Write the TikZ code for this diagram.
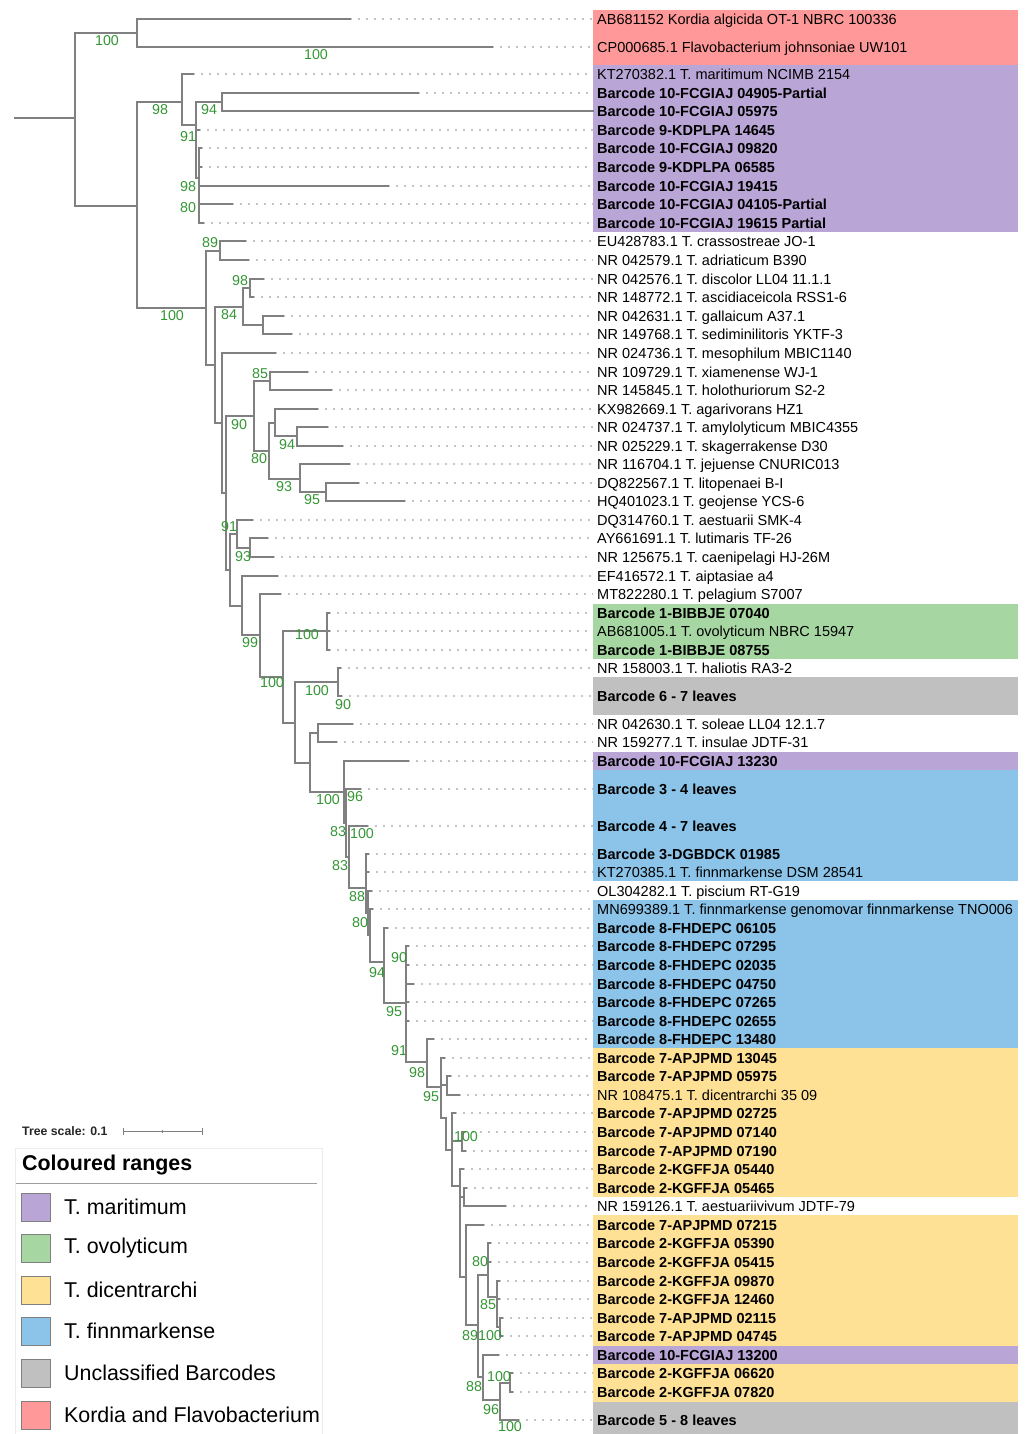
\documentclass[tikz,border=0pt]{standalone}
\usepackage{fontspec}
\setmainfont{Liberation Sans}
\usepackage{tikz}

\definecolor{branchgray}{RGB}{128,128,128}
\definecolor{leadergray}{RGB}{196,196,196}
\definecolor{bootgreen}{RGB}{52,150,52}
\definecolor{rangepink}{RGB}{255,153,153}
\definecolor{rangepurple}{RGB}{185,166,214}
\definecolor{rangegreen}{RGB}{166,215,162}
\definecolor{rangegrey}{RGB}{192,192,192}
\definecolor{rangeblue}{RGB}{139,196,232}
\definecolor{rangeyellow}{RGB}{255,225,150}

\tikzset{
	branch/.style = {draw = branchgray, line width = 1.3pt, line cap = rect},
	leader/.style = {draw = leadergray, line width = 1.1pt, dash pattern = on 2.4pt off 5.6pt},
	leafn/.style = {anchor = west, inner sep = 0pt, text height = 10.5pt, text depth = 0pt, font = \fontsize{14.5}{16}\selectfont},
	leafb/.style = {leafn, font = \fontsize{14.5}{16}\selectfont\bfseries},
	boot/.style = {text = bootgreen, inner sep = 0pt, font = \fontsize{14.3}{16}\selectfont},
	swatch/.style = {draw = gray, line width = 0.8pt, minimum width = 29pt, minimum height = 28pt, inner sep = 0pt},
	legendtext/.style = {anchor = west, inner sep = 0pt, font = \fontsize{21.4}{24}\selectfont}
}

\begin{document}
\begin{tikzpicture}[x = 1pt, y = -1pt]
		\useasboundingbox (0,0) rectangle (1025,1434);
		% coloured ranges
		\foreach \ya/\yb/\c in {10/65/pink, 65/232/purple, 604/659/green, 677/715/grey, 752/770/purple, 770/881/blue, 900/1048/blue, 1048/1197/yellow, 1215/1346/yellow, 1346/1364/purple, 1364/1402/yellow, 1402/1434/grey}
			\fill[range\c] (593,\ya) rectangle (1018,\yb);
		% internal branches: parent x / node x / stem y / top / bottom
		\foreach \px/\nx/\ys/\ya/\yb in {15/75/118/33/206, 75/137/33/19/47, 75/137/206/102/308,
			137/182/102/74/125, 182/196/125/102/178, 196/222/102/93/111, 196/199/178/148/223,
			137/206/308/251/365, 206/220/251/241/260, 206/215/365/307/423, 215/243/307/288/325,
			243/250/288/279/297, 243/263/325/316/334, 215/222/423/353/493, 222/226/493/416/570,
			226/254/416/381/451, 254/270/381/372/390, 254/269/451/423/479, 269/275/423/409/436,
			275/297/436/427/446, 269/300/479/464/492, 300/326/492/483/501, 226/230/570/534/606,
			230/237/534/520/548, 237/250/548/538/557, 230/242/606/576/635, 242/260/635/594/677,
			260/283/677/631/723, 283/327/631/613/650, 283/295/723/682/763, 295/338/682/668/696,
			295/310/763/733/792, 310/318/733/724/742, 310/344/792/761/823, 344/346/823/789/857,
			346/349/857/826/888, 349/366/888/854/913, 366/368/913/891/935, 368/370/935/909/962,
			370/384/962/928/1003, 384/406/1003/946/1062, 406/427/1062/1039/1087, 427/441/1087/1058/1118,
			441/447/1085/1076/1095, 441/446/1118/1118/1150, 446/452/1150/1113/1186, 452/462/1141/1132/1151,
			452/460/1186/1169/1277, 460/464/1197/1188/1206, 460/466/1277/1225/1325, 466/478/1325/1275/1377,
			478/488/1275/1243/1297, 488/497/1297/1281/1327, 497/500/1327/1318/1336, 478/483/1377/1355/1400,
			483/500/1400/1383/1420, 500/510/1383/1373/1392}
			\draw[branch] (\px,\ys) -- (\nx,\ys) (\nx,\ya) -- (\nx,\yb);
		% leaves: y / parent x / tip x / weight / label
		\foreach \y/\px/\tx/\s/\t [count = \i] in {
			19/137/350/n/AB681152 Kordia algicida OT-1 NBRC 100336,
			47/137/492/n/CP000685.1 Flavobacterium johnsoniae UW101,
			74/182/193/n/KT270382.1 T. maritimum NCIMB 2154,
			93/222/418/b/Barcode 10-FCGIAJ 04905-Partial,
			111/222/593/b/Barcode 10-FCGIAJ 05975,
			130/196/199/b/Barcode 9-KDPLPA 14645,
			148/199/201/b/Barcode 10-FCGIAJ 09820,
			167/199/201/b/Barcode 9-KDPLPA 06585,
			186/199/388/b/Barcode 10-FCGIAJ 19415,
			204/199/232/b/Barcode 10-FCGIAJ 04105-Partial,
			223/199/203/b/Barcode 10-FCGIAJ 19615 Partial,
			241/220/245/n/EU428783.1 T. crassostreae JO-1,
			260/220/248/n/NR 042579.1 T. adriaticum B390,
			279/250/263/n/NR 042576.1 T. discolor LL04 11.1.1,
			297/250/253/n/NR 148772.1 T. ascidiaceicola RSS1-6,
			316/263/283/n/NR 042631.1 T. gallaicum A37.1,
			334/263/291/n/NR 149768.1 T. sediminilitoris YKTF-3,
			353/222/275/n/NR 024736.1 T. mesophilum MBIC1140,
			372/270/307/n/NR 109729.1 T. xiamenense WJ-1,
			390/270/331/n/NR 145845.1 T. holothuriorum S2-2,
			409/275/317/n/KX982669.1 T. agarivorans HZ1,
			427/297/327/n/NR 024737.1 T. amylolyticum MBIC4355,
			446/297/342/n/NR 025229.1 T. skagerrakense D30,
			464/300/349/n/NR 116704.1 T. jejuense CNURIC013,
			483/326/358/n/DQ822567.1 T. litopenaei B-I,
			501/326/404/n/HQ401023.1 T. geojense YCS-6,
			520/237/252/n/DQ314760.1 T. aestuarii SMK-4,
			538/250/267/n/AY661691.1 T. lutimaris TF-26,
			557/250/273/n/NR 125675.1 T. caenipelagi HJ-26M,
			576/242/277/n/EF416572.1 T. aiptasiae a4,
			594/260/280/n/MT822280.1 T. pelagium S7007,
			613/327/329/b/Barcode 1-BIBBJE 07040,
			631/327/329/n/AB681005.1 T. ovolyticum NBRC 15947,
			650/327/329/b/Barcode 1-BIBBJE 08755,
			668/338/340/n/NR 158003.1 T. haliotis RA3-2,
			696/338/341/b/Barcode 6 - 7 leaves,
			724/318/352/n/NR 042630.1 T. soleae LL04 12.1.7,
			742/318/336/n/NR 159277.1 T. insulae JDTF-31,
			761/344/408/b/Barcode 10-FCGIAJ 13230,
			789/346/360/b/Barcode 3 - 4 leaves,
			826/349/367/b/Barcode 4 - 7 leaves,
			854/366/368/b/Barcode 3-DGBDCK 01985,
			872/366/368/n/KT270385.1 T. finnmarkense DSM 28541,
			891/368/371/n/OL304282.1 T. piscium RT-G19,
			909/370/372/n/MN699389.1 T. finnmarkense genomovar finnmarkense TNO006,
			928/384/387/b/Barcode 8-FHDEPC 06105,
			946/406/408/b/Barcode 8-FHDEPC 07295,
			965/406/408/b/Barcode 8-FHDEPC 02035,
			984/406/413/b/Barcode 8-FHDEPC 04750,
			1002/406/408/b/Barcode 8-FHDEPC 07265,
			1021/406/408/b/Barcode 8-FHDEPC 02655,
			1039/427/433/b/Barcode 8-FHDEPC 13480,
			1058/441/444/b/Barcode 7-APJPMD 13045,
			1076/447/450/b/Barcode 7-APJPMD 05975,
			1095/447/459/n/NR 108475.1 T. dicentrarchi 35 09,
			1113/452/455/b/Barcode 7-APJPMD 02725,
			1132/462/464/b/Barcode 7-APJPMD 07140,
			1151/462/465/b/Barcode 7-APJPMD 07190,
			1169/460/463/b/Barcode 2-KGFFJA 05440,
			1188/464/466/b/Barcode 2-KGFFJA 05465,
			1206/464/505/n/NR 159126.1 T. aestuariivivum JDTF-79,
			1225/466/483/b/Barcode 7-APJPMD 07215,
			1243/488/490/b/Barcode 2-KGFFJA 05390,
			1262/488/490/b/Barcode 2-KGFFJA 05415,
			1281/497/499/b/Barcode 2-KGFFJA 09870,
			1299/497/499/b/Barcode 2-KGFFJA 12460,
			1318/500/502/b/Barcode 7-APJPMD 02115,
			1336/500/502/b/Barcode 7-APJPMD 04745,
			1355/483/498/b/Barcode 10-FCGIAJ 13200,
			1373/510/512/b/Barcode 2-KGFFJA 06620,
			1392/510/512/b/Barcode 2-KGFFJA 07820,
			1420/500/518/b/Barcode 5 - 8 leaves}
		{
			\node[leaf\s] (l\i) at (597,\y) {\t};
			\draw[leader] (\tx,\y) -- ([xshift = -4pt]l\i.west);
			\draw[branch] (\px,\y) -- (\tx,\y);
		}
		% bootstrap values
		\foreach \x/\y/\v [count = \k] in {107/41/100, 316/55/100, 160/110/98, 209/110/94, 188/137/91,
			188/187/98, 188/208/80, 210/243/89, 240/281/98, 172/316/100, 229/315/84, 260/374/85,
			239/425/90, 287/445/94, 259/459/80, 284/487/93, 312/500/95, 229/527/91, 243/557/93,
			250/643/99, 307/635/100, 272/683/100, 317/691/100, 343/705/90, 328/800/100, 355/797/96,
			338/832/83, 362/834/100, 340/866/83, 357/897/88, 360/923/80, 377/973/94, 399/958/90,
			394/1012/95, 399/1051/91, 417/1073/98, 431/1097/95, 466/1137/100, 480/1262/80,
			488/1305/85, 470/1336/89, 490/1336/100, 474/1387/88, 499/1377/100, 491/1410/96,
			510/1427/100}
			\node[boot] (bs\k) at (\x,\y) {\v};
		% tree scale
		\node[anchor = west, inner sep = 0pt, text = black!85, font = \fontsize{12.3}{14}\selectfont\bfseries] (scale) at (22,1131) {Tree scale: 0.1};
		\draw[branchgray, line width = 1pt] (123,1131) -- (202,1131);
		\foreach \x/\h in {123/3.5, 162/1.5, 202/3.5}
			\draw[branchgray, line width = 1pt] (\x,1131-\h) -- (\x,1131+\h);
		% legend
		\draw[gray!15, line width = 0.8pt] (15,1434) -- (15,1148) -- (322,1148) -- (322,1434);
		\node[anchor = west, inner sep = 0pt, font = \fontsize{21.4}{24}\selectfont\bfseries] (legtitle) at (22,1165) {Coloured ranges};
		\draw[gray!75, line width = 1pt] (16,1183) -- (317,1183);
		\foreach \y/\c/\t [count = \k] in {1207/purple/T. maritimum, 1248/green/T. ovolyticum, 1290/yellow/T. dicentrarchi,
			1331/blue/T. finnmarkense, 1373/grey/Unclassified Barcodes, 1415/pink/Kordia and Flavobacterium}
		{
			\node[swatch, fill = range\c] (sw\k) at (35.5,\y) {};
			\node[legendtext] (lg\k) at (64,\y) {\t};
		}
	\end{tikzpicture}
\end{document}
